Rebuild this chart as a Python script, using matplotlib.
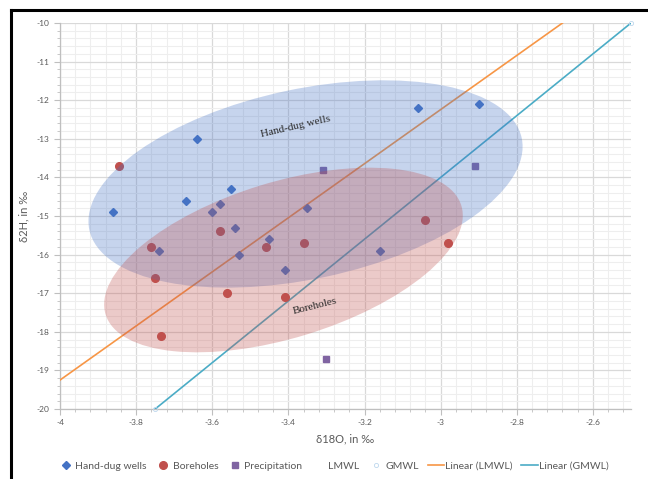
import numpy as np
import matplotlib.pyplot as plt
import matplotlib.transforms as mtransforms
from matplotlib.patches import Ellipse
from matplotlib.lines import Line2D
from matplotlib.ticker import MultipleLocator

plt.rcParams['font.family'] = ['Lato', 'DejaVu Sans']

# values
well_x = [-3.86, -3.64, -3.67, -3.55, -3.58, -3.60, -3.54, -3.74, -3.53, -3.45, -3.35, -3.41, -3.06, -2.90, -3.16]
well_y = [-14.9, -13.0, -14.6, -14.3, -14.7, -14.9, -15.3, -15.9, -16.0, -15.6, -14.8, -16.4, -12.2, -12.1, -15.9]

bore_x = [-3.845, -3.76, -3.75, -3.735, -3.58, -3.56, -3.46, -3.36, -3.41, -3.04, -2.98]
bore_y = [-13.7, -15.8, -16.6, -18.1, -15.4, -17.0, -15.8, -15.7, -17.1, -15.1, -15.7]

prec_x = [-3.31, -2.91, -3.30]
prec_y = [-13.8, -13.7, -18.7]

lmwl_x = [-4.0, -2.68]
lmwl_y = [-19.25, -10.0]
gmwl_x = [-3.75, -2.5]
gmwl_y = [-20.0, -10.0]

C_WELL = '#4472c4'
C_BORE = '#c0504d'
C_PREC = '#8064a2'
C_LMWL = '#f79646'
C_GMWL = '#4bacc6'
TXT = '#595959'

fig = plt.figure(figsize=(6.48, 4.79), dpi=100)
ax = fig.add_axes([60 / 648, 1 - 409 / 479, 571 / 648, 386 / 479])

ax.set_xlim(-4, -2.5)
ax.set_ylim(-20, -10)
ax.xaxis.set_major_locator(MultipleLocator(0.2))
ax.xaxis.set_minor_locator(MultipleLocator(0.04))
ax.yaxis.set_major_locator(MultipleLocator(1))
ax.yaxis.set_minor_locator(MultipleLocator(0.2))
ax.xaxis.set_major_formatter(lambda v, p: f'{v:g}')
ax.yaxis.set_major_formatter(lambda v, p: f'{v:g}')

ax.grid(which='major', color='#d9d9d9', lw=0.9)
ax.grid(which='minor', color='#eeeeee', lw=0.8)
ax.set_axisbelow(True)
for s in ['top', 'right']:
    ax.spines[s].set_visible(False)
for s in ['left', 'bottom']:
    ax.spines[s].set_color('#bfbfbf')
    ax.spines[s].set_linewidth(0.9)
ax.tick_params(which='both', colors='#bfbfbf', labelcolor=TXT, labelsize=6)
ax.tick_params(which='major', length=4)
ax.tick_params(which='minor', length=2.5)

ax.set_xlabel('δ18O, in ‰', fontsize=8, color=TXT, labelpad=5)
ax.set_ylabel('δ2H, in ‰', fontsize=8, color=TXT, labelpad=5)

# trendlines
ax.plot(lmwl_x, lmwl_y, color=C_LMWL, lw=1.2, zorder=3)
ax.plot(gmwl_x, gmwl_y, color=C_GMWL, lw=1.2, zorder=3)
ax.plot(gmwl_x, gmwl_y, ls='none', marker='o', ms=3, mfc='none', mec='#bdd7ee',
        mew=0.6, zorder=4, clip_on=False)

ax.plot(well_x, well_y, ls='none', marker='D', ms=4, color=C_WELL, zorder=5)
ax.plot(bore_x, bore_y, ls='none', marker='o', ms=5.5, color=C_BORE, zorder=5)
ax.plot(prec_x, prec_y, ls='none', marker='s', ms=4.5, color=C_PREC, zorder=5)

# shaded group ellipses, sized in pixels
def add_ellipse(cx, cy, a, b, ang, color):
    tr = mtransforms.ScaledTranslation(cx, cy, ax.transData)
    e = Ellipse((0, 0), 2 * a, 2 * b, angle=ang, transform=tr,
                facecolor=color, edgecolor='none', alpha=0.3, zorder=6)
    ax.add_patch(e)

add_ellipse(-3.355, -14.17, 221, 95, 12, C_WELL)
add_ellipse(-3.413, -16.14, 186, 78, 17, C_BORE)

ax.text(-3.382, -12.69, 'Hand-dug wells', family='Liberation Serif', fontsize=8,
        rotation=13, ha='center', va='center', color='#262626', zorder=7)
ax.text(-3.329, -17.33, 'Boreholes', family='Liberation Serif', fontsize=8,
        rotation=14, ha='center', va='center', color='#262626', zorder=7)

handles = [
    Line2D([], [], ls='none', marker='D', ms=4, color=C_WELL),
    Line2D([], [], ls='none', marker='o', ms=5.5, color=C_BORE),
    Line2D([], [], ls='none', marker='s', ms=4.5, color=C_PREC),
    Line2D([], [], ls='none', marker='none'),
    Line2D([], [], ls='none', marker='o', ms=3, mfc='none', mec='#bdd7ee', mew=0.6),
    Line2D([], [], color=C_LMWL, lw=1.2),
    Line2D([], [], color=C_GMWL, lw=1.2),
]
labels = ['Hand-dug wells', 'Boreholes', 'Precipitation', 'LMWL', 'GMWL',
          'Linear (LMWL)', 'Linear (GMWL)']
leg = fig.legend(handles, labels, loc='center', bbox_to_anchor=(333 / 648, 1 - 466 / 479),
                 ncol=7, frameon=False, fontsize=7.5, handlelength=1.6, handletextpad=0.1,
                 columnspacing=0.8, labelcolor=TXT, borderpad=0)

# outer frame (left and top edges visible)
fig.add_artist(Line2D([11 / 648, 11 / 648], [0, 1 - 10 / 479], color='black', lw=2.2,
                      transform=fig.transFigure))
fig.add_artist(Line2D([11 / 648, 1], [1 - 10 / 479, 1 - 10 / 479], color='black', lw=2.2,
                      transform=fig.transFigure))

fig.savefig('out.png', dpi=100)
